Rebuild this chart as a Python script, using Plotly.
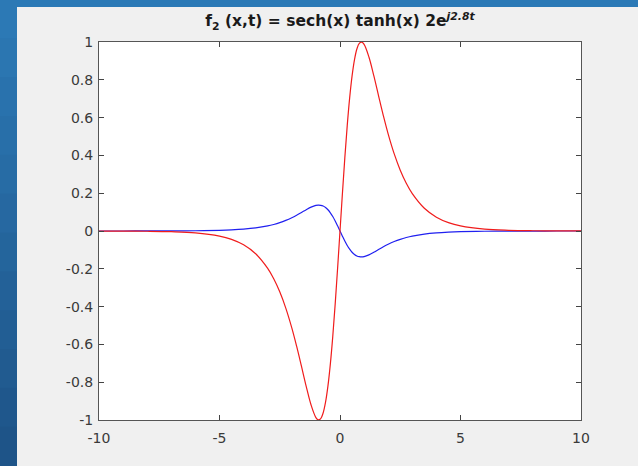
import plotly.graph_objects as go

# Values
x_vals = [-10, -9, -8, -7, -6, -5, -4.5, -4, -3.5, -3, -2.75, -2.5, -2.25, -2, -1.8, -1.6,
          -1.4, -1.2, -1.0, -0.9, -0.8, -0.7, -0.6, -0.5, -0.4, -0.3, -0.2, -0.1, 0,
          0.1, 0.2, 0.3, 0.4, 0.5, 0.6, 0.7, 0.8, 0.9, 1.0, 1.2, 1.4, 1.6, 1.8, 2,
          2.25, 2.5, 2.75, 3, 3.5, 4, 4.5, 5, 6, 7, 8, 9, 10]

red_pos = [0.1983, 0.3870, 0.5574, 0.7029, 0.8196, 0.9060, 0.9630, 0.9930, 0.9997, 0.9871,
           0.9208, 0.8232, 0.7152, 0.6094, 0.5125, 0.4078, 0.3218, 0.2526, 0.1977, 0.1205,
           0.0732, 0.0444, 0.0270, 0.0099, 0.0037, 0.0013, 0.0005, 0.0002]
blue_pos = [-0.0272, -0.0530, -0.0764, -0.0963, -0.1123, -0.1241, -0.1319, -0.1360, -0.1370,
            -0.1352, -0.1261, -0.1128, -0.0980, -0.0835, -0.0702, -0.0559, -0.0441, -0.0346,
            -0.0271, -0.0165, -0.0100, -0.0061, -0.0037, -0.0014, -0.0005, -0.0002, -0.0001, 0.0]

real_part = [-v for v in reversed(red_pos)] + [0.0] + red_pos
imag_part = [-v for v in reversed(blue_pos)] + [0.0] + blue_pos

x_ticks = [-10, -5, 0, 5, 10]
y_ticks = [-1, -0.8, -0.6, -0.4, -0.2, 0, 0.2, 0.4, 0.6, 0.8, 1]
y_tick_text = ["-1", "-0.8", "-0.6", "-0.4", "-0.2", "0", "0.2", "0.4", "0.6", "0.8", "1"]

title_text = "<b>f<sub>2</sub> (x,t) = sech(x) tanh(x) 2e<sup><i>j2.8t</i></sup></b>"

fig = go.Figure()
fig.add_trace(go.Scatter(x=x_vals, y=imag_part, mode="lines",
                         line=dict(color="#2020f0", width=1.2, shape="spline"),
                         showlegend=False, hoverinfo="skip"))
fig.add_trace(go.Scatter(x=x_vals, y=real_part, mode="lines",
                         line=dict(color="#f01c1c", width=1.2, shape="spline"),
                         showlegend=False, hoverinfo="skip"))

W, H = 638, 466
ml, mr, mt, mb = 99, 57, 42, 46

def px(xp):
    return (xp - ml) / (W - ml - mr)

def py(yp):
    return 1 - (yp - mt) / (H - mt - mb)

shapes = []
# left gradient strip of the window frame
n = 12
c0 = (44, 121, 181)
c1 = (30, 84, 136)
for i in range(n):
    t = i / (n - 1)
    c = tuple(int(round(c0[k] + (c1[k] - c0[k]) * t)) for k in range(3))
    y0p = H * i / n
    y1p = H * (i + 1) / n
    shapes.append(dict(type="rect", xref="paper", yref="paper", x0=px(-1), x1=px(17),
                       y0=py(y1p + 0.5), y1=py(y0p - 0.5), fillcolor="rgb(%d,%d,%d)" % c,
                       line=dict(width=0), layer="below"))
# gray figure area
shapes.append(dict(type="rect", xref="paper", yref="paper", x0=px(17), x1=px(W + 2),
                   y0=py(H + 2), y1=py(7), fillcolor="#f0f0f0", line=dict(width=0), layer="below"))
# white axes area
shapes.append(dict(type="rect", xref="paper", yref="paper", x0=0, x1=1, y0=0, y1=1,
                   fillcolor="#ffffff", line=dict(width=0), layer="below"))

axis_common = dict(showgrid=False, zeroline=False, showline=True, linecolor="#555555",
                   linewidth=1, ticks="inside", ticklen=5, tickwidth=1, tickcolor="#444444",
                   mirror="ticks", tickfont=dict(family="DejaVu Sans", size=14, color="#3a3a3a"))

fig.update_layout(
    width=W, height=H,
    margin=dict(l=ml, r=mr, t=mt, b=mb, pad=0),
    paper_bgcolor="#2b79b6", plot_bgcolor="#ffffff",
    title=dict(text=title_text, x=0.5, xref="paper", y=1 - 21 / H, yanchor="middle",
               font=dict(family="DejaVu Sans", size=15.5, color="#1a1a1a")),
    xaxis=dict(range=[-10, 10], tickvals=x_ticks, ticktext=[str(v) for v in x_ticks],
               ticklabelstandoff=5, **axis_common),
    yaxis=dict(range=[-1, 1], tickvals=y_ticks, ticktext=y_tick_text,
               ticklabelstandoff=2, **axis_common),
    shapes=shapes,
)

fig.write_html("out.html", config={"displayModeBar": False},
               post_script="document.body.style.margin='0';document.body.style.overflow='hidden';")
